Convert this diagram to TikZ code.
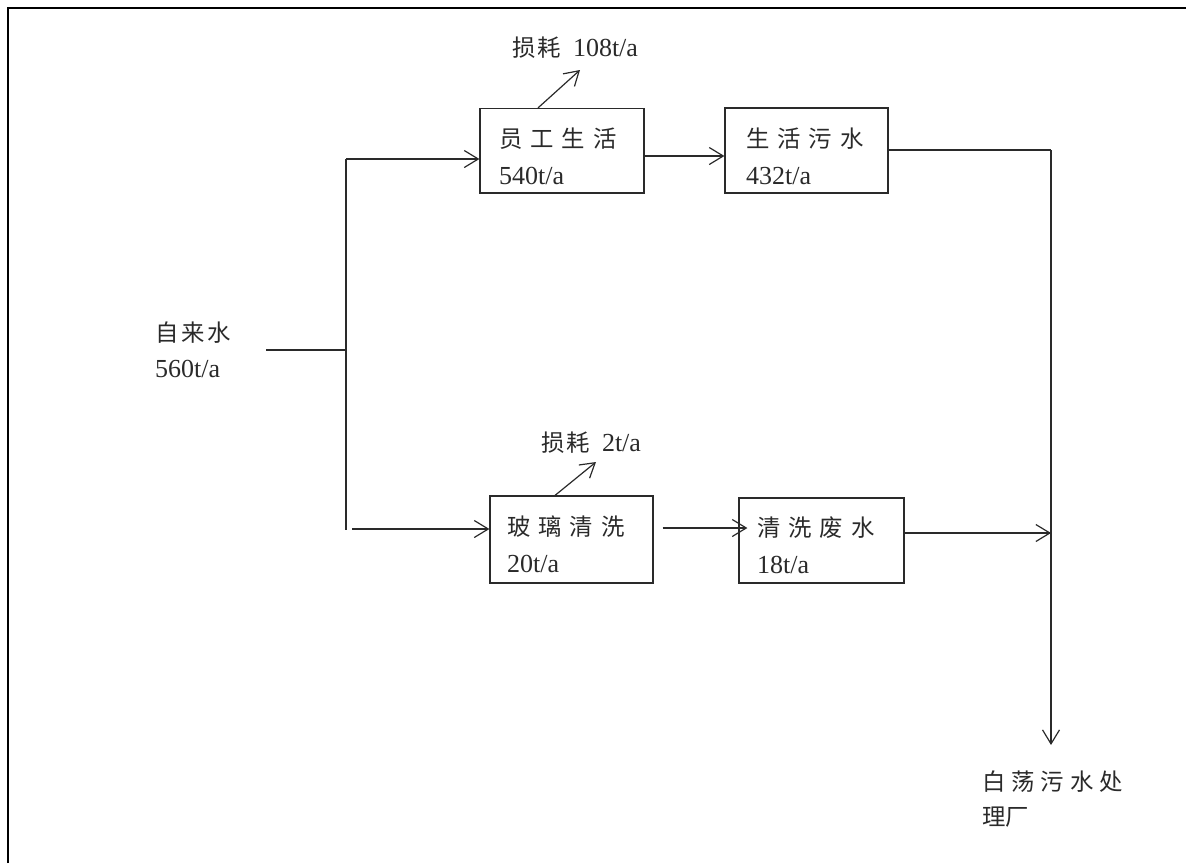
\documentclass[tikz,border=0pt]{standalone}
\usepackage{fontspec}
\setmainfont{Liberation Serif}
\newfontfamily\cjk[Scale=0.9]{Noto Sans CJK SC}
\usetikzlibrary{arrows.meta,calc}
\definecolor{ink}{HTML}{2A2A2A}
\tikzset{
  boxnode/.style={draw=ink, line width=1.2pt, rectangle, inner sep=0pt},
  txt/.style={anchor=west, inner sep=0pt, align=left, text=ink, font=\fontsize{26pt}{37pt}\selectfont},
  conn/.style={draw=ink, line width=1.2pt},
  arr/.style={conn, -{Straight Barb[length=14pt,width=17pt]}},
  frameline/.style={draw=black, line width=2pt}
}
\begin{document}
\begin{tikzpicture}[x=1pt,y=-1pt]
\useasboundingbox (0,0) rectangle (1186,863);
% frame (top and left edges)
\draw[frameline] (8,863) -- (8,8) -- (1186,8);

% boxes
\node[boxnode, minimum width=164pt, minimum height=84.5pt] (b1) at (562,150.75) {};
\node[boxnode, minimum width=163pt, minimum height=85pt] (b2) at (806.5,150.5) {};
\node[boxnode, minimum width=163pt, minimum height=87pt] (b3) at (571.5,539.5) {};
\node[boxnode, minimum width=165pt, minimum height=85pt] (b4) at (821.5,540.5) {};

% box texts
\node[txt] (t1) at (499,156.5) {{\cjk 员\hspace{8pt}工\hspace{8pt}生\hspace{8pt}活}\\540t/a};
\node[txt] (t2) at (746,156.5) {{\cjk 生\hspace{8pt}活\hspace{8pt}污\hspace{8pt}水}\\432t/a};
\node[txt] (t3) at (507,544) {{\cjk 玻\hspace{8pt}璃\hspace{8pt}清\hspace{8pt}洗}\\20t/a};
\node[txt] (t4) at (757,545) {{\cjk 清\hspace{8pt}洗\hspace{8pt}废\hspace{8pt}水}\\18t/a};

% source and destination labels
\node[txt, font=\fontsize{26pt}{36pt}\selectfont] (src) at (155,350) {{\cjk 自\hspace{3pt}来\hspace{3pt}水}\\560t/a};
\node[txt, font=\fontsize{26pt}{35pt}\selectfont] (dst) at (982,799.5) {{\cjk 白\hspace{6pt}荡\hspace{6pt}污\hspace{6pt}水\hspace{6pt}处}\\{\cjk 理厂}};

% loss labels
\node[txt] (l1) at (512,48) {{\cjk 损\hspace{2pt}耗}\hspace{12pt}108t/a};
\node[txt] (l2) at (541,443) {{\cjk 损\hspace{2pt}耗}\hspace{12pt}2t/a};

% junction coordinates
\coordinate (s0) at (266,350);
\coordinate (jm) at (346,350);
\coordinate (jt) at (346,159);
\coordinate (jb) at (346,530);
\coordinate (jb2) at (352,529);
\coordinate (rc) at (1051,150);
\coordinate (rj) at (1051,533);
\coordinate (rend) at (1051,745);
\coordinate (e1) at (580,70);
\coordinate (e2) at (596,462);

% main feed
\draw[conn] (s0) -- (jm);
\draw[conn] (jt) -- (jb);
\draw[arr] (jt) -- (jt -| b1.west);
\draw[arr] (jb2) -- (jb2 -| b3.west);

% box to box
\draw[arr] ([yshift=-5.25pt]b1.east) -- ([yshift=-5.25pt]b1.east -| b2.west);
\draw[arr] ([xshift=9pt,yshift=11.5pt]b3.east) -- ([xshift=9pt,yshift=11.5pt]b3.east -| b4.west);

% to treatment plant
\draw[conn] (rc -| b2.east) -- (rc);
\draw[arr] (rc) -- (rend);
\draw[arr] (rj -| b4.east) -- (rj);

% losses
\draw[arr] ([xshift=-24pt]b1.north) -- (e1);
\draw[arr] ([xshift=-16.5pt]b3.north) -- (e2);
\end{tikzpicture}
\end{document}
